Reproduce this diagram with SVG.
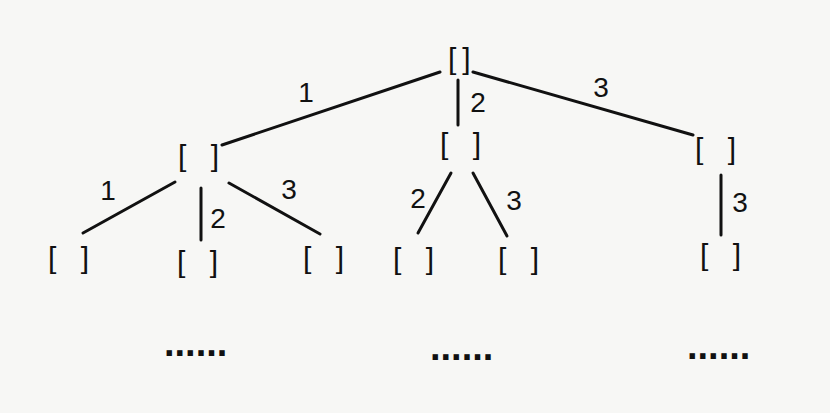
<svg xmlns="http://www.w3.org/2000/svg" width="830" height="413" viewBox="0 0 830 413">
<style>
.n{font-family:"Liberation Sans",Arial,sans-serif;font-size:30px;fill:#111;letter-spacing:8px}
.l{font-family:"Liberation Sans",Arial,sans-serif;font-size:28px;fill:#111;text-anchor:middle}
.d{font-family:"Liberation Sans",Arial,sans-serif;font-size:38px;font-weight:bold;fill:#111}
.e{stroke:#111;stroke-width:3;stroke-linecap:round;fill:none}
</style>
<rect width="830" height="413" fill="#f7f7f5"/>
<g id="connectors">
<line class="e" x1="440" y1="72" x2="222" y2="145"/>
<line class="e" x1="458" y1="80" x2="458" y2="125"/>
<line class="e" x1="473" y1="72" x2="693" y2="135"/>
<line class="e" x1="175" y1="182" x2="83" y2="233"/>
<line class="e" x1="201" y1="188" x2="201" y2="240"/>
<line class="e" x1="229" y1="183" x2="320" y2="234"/>
<line class="e" x1="451" y1="173" x2="418" y2="233"/>
<line class="e" x1="473" y1="173" x2="507" y2="236"/>
<line class="e" x1="721" y1="175" x2="721" y2="235"/>
<text class="l" x="306" y="102">1</text>
<text class="l" x="478" y="112">2</text>
<text class="l" x="601" y="97">3</text>
<text class="l" x="108" y="200">1</text>
<text class="l" x="218" y="228">2</text>
<text class="l" x="289" y="199">3</text>
<text class="l" x="418" y="208">2</text>
<text class="l" x="514" y="210">3</text>
<text class="l" x="740" y="212">3</text>
</g>
<g id="root"><text class="n" x="448" y="69" style="letter-spacing:6px">[]</text></g>
<g id="n1"><text class="n" x="178" y="166">[ ]</text></g>
<g id="n2"><text class="n" x="440" y="154">[ ]</text></g>
<g id="n3"><text class="n" x="695" y="159">[ ]</text></g>
<g id="n11"><text class="n" x="48" y="268">[ ]</text></g>
<g id="n12"><text class="n" x="177" y="272">[ ]</text></g>
<g id="n13"><text class="n" x="303" y="268">[ ]</text></g>
<g id="n22"><text class="n" x="393" y="269">[ ]</text></g>
<g id="n23"><text class="n" x="498" y="269">[ ]</text></g>
<g id="n33"><text class="n" x="700" y="265">[ ]</text></g>
<g id="more">
<text class="d" x="164" y="356">......</text>
<text class="d" x="430" y="360">......</text>
<text class="d" x="687" y="359">......</text>
</g>
</svg>
